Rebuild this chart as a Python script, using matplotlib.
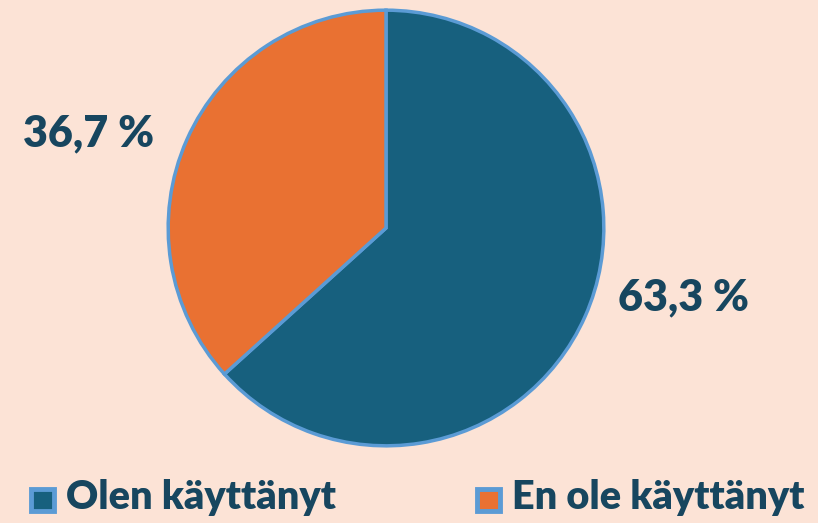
import matplotlib
matplotlib.use("Agg")
import matplotlib.pyplot as plt
from matplotlib.patches import Rectangle

categories = ["Olen käyttänyt", "En ole käyttänyt"]
values = [63.3, 36.7]
labels = ["63,3 %", "36,7 %"]
colors = ["#17607E", "#E97132"]
edge = "#5B9BD5"
bg = "#FCE3D6"
textc = "#17465F"

W, H = 818, 523
fig = plt.figure(figsize=(W / 100, H / 100), dpi=100, facecolor=bg)
cx, cy, r = 386, 228, 220
ax = fig.add_axes([(cx - r) / W, (H - cy - r) / H, 2 * r / W, 2 * r / H])
ax.set_facecolor(bg)
ax.pie(values, colors=colors, startangle=90, counterclock=False, radius=1,
       wedgeprops=dict(edgecolor=edge, linewidth=2.5))
ax.set_xlim(-1.01, 1.01)
ax.set_ylim(-1.01, 1.01)
ax.set_aspect("auto")
ax.axis("off")

font = dict(family=["Lato", "DejaVu Sans"], weight="heavy", color=textc)
fig.text(684 / W, 1 - 297 / H, labels[0], ha="center", va="center", fontsize=31, **font)
fig.text(89 / W, 1 - 133 / H, labels[1], ha="center", va="center", fontsize=31, **font)

# legend
leg_x = [31, 477]
for i, cat in enumerate(categories):
    x0 = leg_x[i]
    fig.patches.append(Rectangle((x0 / W, 1 - 511 / H), 23 / W, 22 / H,
                                 transform=fig.transFigure, facecolor=colors[i],
                                 edgecolor=edge, linewidth=3.5))
    fig.text((x0 + 35) / W, 1 - 498 / H, cat, ha="left", va="center",
             fontsize=28.5, **font)

fig.savefig("out.png", dpi=100, facecolor=bg)
